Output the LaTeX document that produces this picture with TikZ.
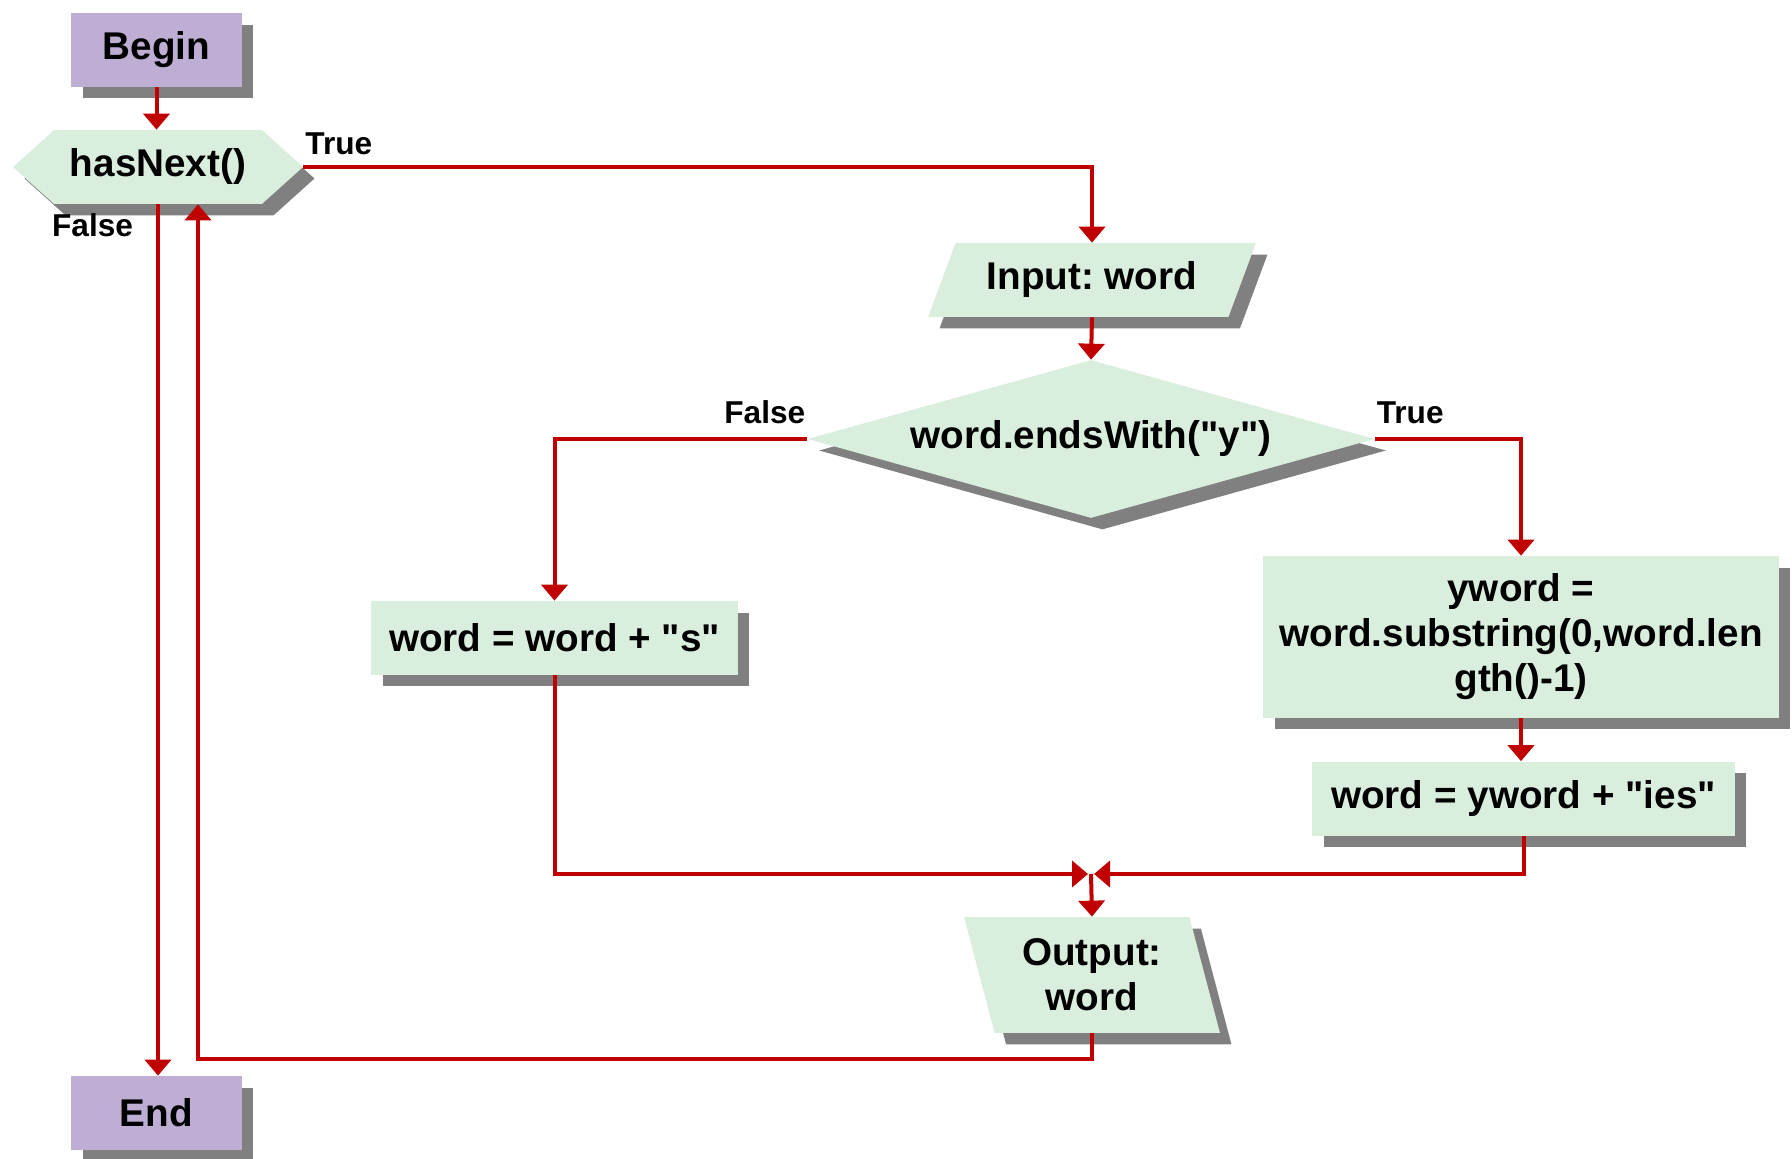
\documentclass[tikz,border=0pt]{standalone}
\usepackage{fontspec}
\setmainfont{Liberation Sans}
\usepackage{xcolor}
\definecolor{termpurple}{RGB}{190, 174, 212}
\definecolor{boxgreen}{RGB}{217, 238, 221}
\definecolor{flowred}{RGB}{192, 0, 0}
\definecolor{shadowgray}{RGB}{128, 128, 128}
\usepackage{tikz}
\usetikzlibrary{arrows.meta, calc, shapes.geometric, shapes.symbols, shadows}
\frenchspacing

\begin{document}
\begin{tikzpicture}[x=0.02cm, y=-0.02cm, >={Triangle[width=0.52cm, length=0.32cm]},
    font=\fontsize{22}{25.6}\selectfont\bfseries,
    shade box/.style={drop shadow={shadow xshift=0.23cm, shadow yshift=-0.23cm, fill=shadowgray, opacity=1}},
    terminal/.style={shade box, fill=termpurple, minimum width=3.42cm, minimum height=1.48cm},
    process/.style={shade box, fill=boxgreen, align=center, minimum height=1.48cm},
    io/.style={shade box, fill=boxgreen, trapezium, align=center, trapezium stretches body=true},
    flow/.style={->, flowred, line width=0.08cm},
    tag/.style={font=\fontsize{18}{20}\selectfont\bfseries, text=black, inner sep=0pt}]
    \useasboundingbox (0,0) rectangle (1792,1159);

    \node[terminal] (begin) at (156.5, 50) {Begin};
    \node[shade box, fill=boxgreen, signal, signal to=west and east, signal pointer angle=84,
          minimum width=5.8cm, minimum height=1.48cm] (hasnext) at (158, 167) {hasNext()};
    \node[io, trapezium left angle=60, trapezium right angle=120,
          minimum width=6.56cm, minimum height=1.48cm] (input) at (1092, 280) {Input: word};
    \node[shade box, fill=boxgreen, diamond, aspect=3.6,
          minimum width=11.34cm, minimum height=3.16cm] (test) at (1091, 439)
        {word.endsWith(\textquotedbl y\textquotedbl)};
    \node[process, minimum width=7.34cm] (plus) at (554.5, 638)
        {word = word + \textquotedbl s\textquotedbl};
    \node[process, minimum width=10.32cm, minimum height=3.24cm] (yword) at (1521, 637)
        {yword =\\word.substring(0,word.len\\gth()-1)};
    \node[process, minimum width=8.46cm] (ies) at (1523.5, 798.5)
        {word = yword + \textquotedbl ies\textquotedbl};
    \node[io, trapezium left angle=110, trapezium right angle=70,
          minimum width=5.12cm, minimum height=2.32cm] (output) at (1092, 975) {Output:\\word};
    \node[terminal] (end) at (156.5, 1113) {End};

    \coordinate (merge) at (1091, 874);
    \coordinate (back) at (198, 1059);

    \draw[flow] (begin.south) -- (begin.south |- hasnext.north);
    \draw[flow] (hasnext.east) node[tag, anchor=south west, yshift=0.2cm] {True} -| (input.north);
    \draw[flow] (input.south) -- (test.north);
    \draw[flow] (test.west) node[tag, anchor=south east, yshift=0.26cm] {False} -| (plus.north);
    \draw[flow] (test.east) node[tag, anchor=south west, yshift=0.26cm] {True} -| (yword.north);
    \draw[flow] (yword.south) -- (yword.south |- ies.north);
    \draw[flow, shorten >=0.06cm] (plus.south) |- (merge);
    \draw[flow, shorten >=0.06cm] (ies.south) |- (merge);
    \draw[flow] (merge) -- (output.north);
    \draw[flow] (output.south) |- (back) -- (back |- hasnext.south);
    \draw[flow] (hasnext.south) node[tag, anchor=north east, xshift=-0.46cm, yshift=-0.14cm] {False}
        -- (hasnext.south |- end.north);
\end{tikzpicture}
\end{document}
